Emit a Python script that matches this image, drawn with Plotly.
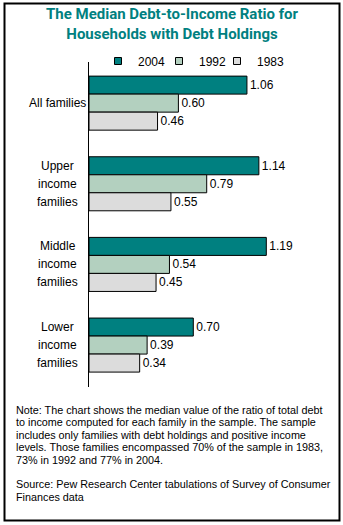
import plotly.graph_objects as go

# Median debt-to-income ratio by income group and survey year
categories = ["All families", "Upper income families", "Middle income families", "Lower income families"]
label_lines = [["All families"], ["Upper", "income", "families"], ["Middle", "income", "families"], ["Lower", "income", "families"]]
years = ["2004", "1992", "1983"]
values_2004 = [1.06, 1.14, 1.19, 0.70]
values_1992 = [0.60, 0.79, 0.54, 0.39]
values_1983 = [0.46, 0.55, 0.45, 0.34]
colors = ["#008080", "#b3d0bf", "#dcdcdc"]

title_text = "The Median Debt-to-Income Ratio for<br>Households with Debt Holdings"
note_lines = [
    "Note: The chart shows the median value of the ratio of total debt",
    "to income computed for each family in the sample. The sample",
    "includes only families with debt holdings and positive income",
    "levels. Those families encompassed 70% of the sample in 1983,",
    "73% in 1992 and 77% in 2004.",
    "",
    "Source: Pew Research Center tabulations of Survey of Consumer",
    "Finances data",
]

W, H = 343, 525
fig = go.Figure()

legend_ids = ["legend", "legend2", "legend3"]
legend_left = [98, 159, 217]

for year, vals, col, lid in zip(years, [values_2004, values_1992, values_1983], colors, legend_ids):
    fig.add_trace(go.Bar(
        y=categories, x=vals, orientation="h", name=year,
        marker=dict(color=col, line=dict(color="black", width=1)),
        text=vals, texttemplate="%{x:.2f}", textposition="outside",
        textfont=dict(family="Liberation Sans", size=12, color="black"),
        cliponaxis=False, showlegend=False,
    ))
    # small square legend key, one legend box per year
    fig.add_trace(go.Scatter(
        x=[None], y=[None], mode="markers", name=year, legend=lid,
        marker=dict(symbol="square", size=7, color=col, line=dict(color="black", width=1)),
        showlegend=True,
    ))

# category labels, one line per bar row
annotations = []
for cat, lines in zip(categories, label_lines):
    shifts = [0] if len(lines) == 1 else [18, 0, -18]
    for line, s in zip(lines, shifts):
        annotations.append(dict(
            x=58 / W, xref="paper", y=cat, yref="y", yshift=s,
            text=line, showarrow=False, xanchor="center", yanchor="middle",
            font=dict(family="Liberation Sans", size=12, color="black"),
        ))

annotations.append(dict(
    x=0.5, xref="paper", y=1 - 24 / H, yref="paper",
    text=title_text, showarrow=False, xanchor="center", yanchor="middle",
    font=dict(family="Roboto", size=15, color="#008080", weight="bold"),
))

# footnote, one annotation per line for tight leading
for i, line in enumerate(note_lines):
    if not line:
        continue
    annotations.append(dict(
        x=14 / W, xref="paper", y=1 - (410 + 12.4 * i) / H, yref="paper",
        text=line, showarrow=False, xanchor="left", yanchor="middle", align="left",
        font=dict(family="Liberation Sans", size=10.8, color="black"),
    ))

legend_style = dict(orientation="h", xanchor="left", y=1 - 61 / H, yanchor="middle",
                    font=dict(family="Liberation Sans", size=12, color="black"),
                    itemwidth=30, bgcolor="rgba(0,0,0,0)")

fig.update_layout(
    width=W, height=H,
    margin=dict(l=0, r=0, t=0, b=0),
    paper_bgcolor="white", plot_bgcolor="white",
    barmode="group", bargap=0.33, bargroupgap=0,
    xaxis=dict(domain=[89 / W, 320 / W], range=[0, (320 - 89) / 149],
               visible=False, fixedrange=True),
    yaxis=dict(domain=[1 - 387 / H, 1 - 62 / H], range=[3.52, -0.51],
               showticklabels=False, ticks="", showgrid=False, zeroline=False,
               showline=True, linecolor="black", linewidth=1),
    legend=dict(x=legend_left[0] / W, **legend_style),
    legend2=dict(x=legend_left[1] / W, **legend_style),
    legend3=dict(x=legend_left[2] / W, **legend_style),
    annotations=annotations,
    shapes=[dict(type="rect", xref="paper", yref="paper",
                 x0=4.5 / W, x1=339.5 / W, y0=1 - 520.5 / H, y1=1 - 3.5 / H,
                 line=dict(color="black", width=2), fillcolor="rgba(0,0,0,0)")],
)

fig.write_html("out.html")
